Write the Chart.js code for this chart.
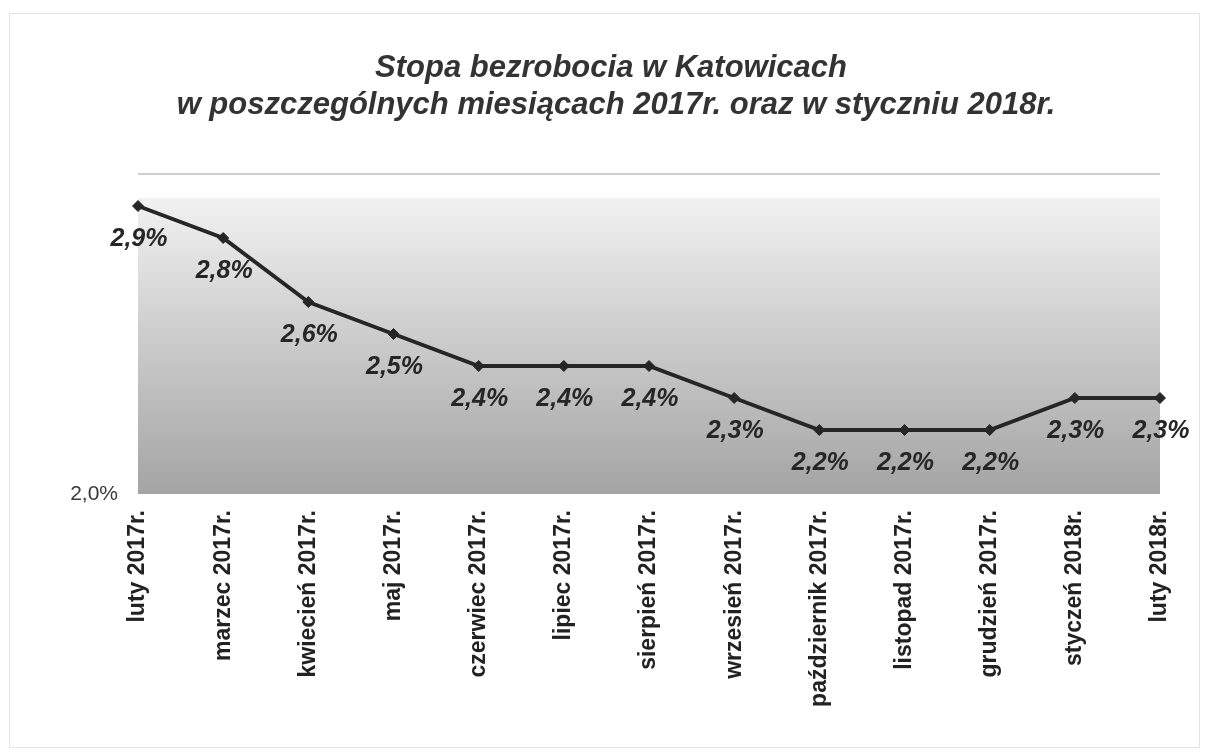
<!DOCTYPE html>
<html>
<head>
<meta charset="utf-8">
<script src="https://cdn.jsdelivr.net/npm/chart.js@4"></script>
<style>
html,body{margin:0;padding:0;background:#fff;}
#wrap{width:1209px;height:752px;position:relative;}
</style>
</head>
<body>
<div id="wrap"><canvas id="c" width="1209" height="752"></canvas></div>
<script>
const categories = ["luty 2017r.","marzec 2017r.","kwiecień 2017r.","maj 2017r.","czerwiec 2017r.","lipiec 2017r.","sierpień 2017r.","wrzesień 2017r.","październik 2017r.","listopad 2017r.","grudzień 2017r.","styczeń 2018r.","luty 2018r."];
const rates = [2.9,2.8,2.6,2.5,2.4,2.4,2.4,2.3,2.2,2.2,2.2,2.3,2.3];
const titleLines = ["Stopa bezrobocia w Katowicach","w poszczególnych miesiącach 2017r. oraz w styczniu 2018r."];
const yMin = 2.0, yMax = 3.0;

const fmt = v => v.toFixed(1).replace('.', ',') + '%';
const FONT = '"Liberation Sans", Arial, sans-serif';

const bgPlugin = {
  id: 'bg',
  beforeDraw(chart) {
    const {ctx, chartArea: a} = chart;
    ctx.save();
    // outer frame
    ctx.strokeStyle = '#e4e4e4';
    ctx.lineWidth = 1;
    ctx.strokeRect(9.5, 13.5, 1190, 734);
    const g = ctx.createLinearGradient(0, a.top, 0, a.bottom);
    g.addColorStop(0, '#ffffff');
    g.addColorStop(0.08, '#f1f1f1');
    g.addColorStop(0.5, '#cdcdcd');
    g.addColorStop(1, '#a4a4a4');
    ctx.fillStyle = g;
    ctx.fillRect(a.left, a.top + 24, a.right - a.left, a.bottom - a.top - 24);
    // title
    ctx.font = 'italic bold 31px ' + FONT;
    ctx.fillStyle = '#333333';
    ctx.textAlign = 'center';
    ctx.textBaseline = 'middle';
    ctx.fillText(titleLines[0], 611, 68);
    ctx.fillText(titleLines[1], 616, 105);
    ctx.restore();
  }
};

const labelPlugin = {
  id: 'vals',
  afterDatasetsDraw(chart) {
    const {ctx} = chart;
    const meta = chart.getDatasetMeta(0);
    ctx.save();
    ctx.font = 'italic bold 25px ' + FONT;
    ctx.fillStyle = '#262626';
    ctx.textAlign = 'center';
    ctx.textBaseline = 'middle';
    meta.data.forEach((p, i) => {
      ctx.fillText(fmt(rates[i]), p.x + 1, p.y + 33);
    });
    ctx.restore();
  }
};

new Chart(document.getElementById('c'), {
  type: 'line',
  data: {
    labels: categories,
    datasets: [{
      data: rates,
      borderColor: '#262626',
      backgroundColor: '#262626',
      borderWidth: 4,
      pointStyle: 'rectRot',
      pointRadius: 5.5,
      pointBorderWidth: 1,
      tension: 0
    }]
  },
  options: {
    responsive: false,
    animation: false,
    layout: { padding: { left: 0, right: 49, top: 174, bottom: 0 } },
    plugins: {
      legend: { display: false },
      tooltip: { enabled: false },
      title: { display: false }
    },
    scales: {
      x: {
        offset: false,
        grid: { display: false, drawTicks: false },
        border: { display: false },
        ticks: {
          autoSkip: false,
          minRotation: 90,
          maxRotation: 90,
          padding: 16,
          color: '#222222',
          font: { family: FONT, size: 23, weight: 'bold' }
        },
        afterFit(scale) { scale.height = 258; }
      },
      y: {
        min: yMin,
        max: yMax,
        grid: {
          drawTicks: false,
          color: ctx => (ctx.tick && ctx.tick.value === yMax) ? '#cfcfcf' : 'rgba(0,0,0,0)',
          lineWidth: 2
        },
        border: { display: false },
        ticks: {
          stepSize: 1,
          padding: 20,
          color: '#3a3a3a',
          font: { family: FONT, size: 21 },
          callback: v => v === yMin ? fmt(v) : ''
        },
        afterFit(scale) { scale.width = 138; }
      }
    }
  },
  plugins: [bgPlugin, labelPlugin]
});
</script>
</body>
</html>
